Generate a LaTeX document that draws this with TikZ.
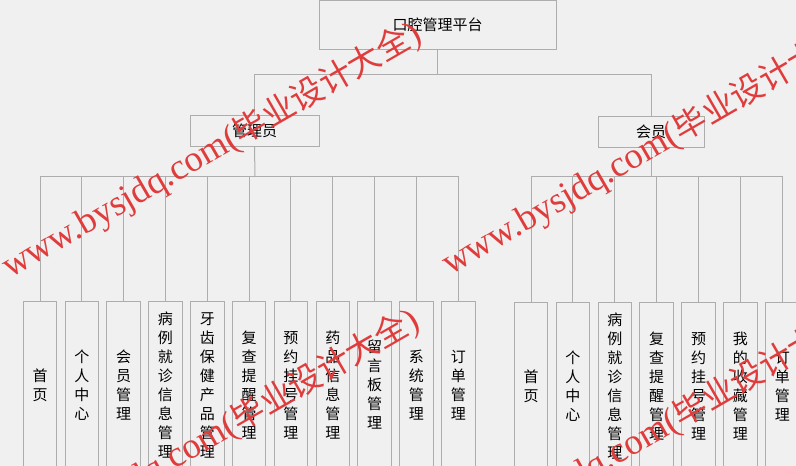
\documentclass[tikz,border=0pt]{standalone}
\usepackage{fontspec}
\newfontfamily\cjk{Noto Sans CJK SC}
\newfontfamily\wmlat{Liberation Serif}
\definecolor{bgc}{HTML}{F0F0F0}
\definecolor{linec}{HTML}{ADADAD}
\definecolor{wmred}{HTML}{E03C3C}
\newcommand\wmtext{\wmlat\fontsize{36.5}{36}\selectfont www.bysjdq.com(\cjk\fontsize{33}{33}\selectfont 毕业设计大全\wmlat\fontsize{36}{36}\selectfont)}
\begin{document}
\begin{tikzpicture}[x=1pt,y=-1pt,
  box/.style={draw=linec, line width=1pt, fill=bgc, inner sep=0pt, font=\cjk\fontsize{15}{19}\selectfont},
  leaf/.style={box, minimum width=33.4pt, minimum height=168pt, align=center},
  conn/.style={draw=linec, line width=1pt},
  wm/.style={text=wmred, rotate=30, anchor=base west, inner sep=0pt}]
\path[use as bounding box, fill=bgc] (0,0) rectangle (796,466);
\clip (0,0) rectangle (796,466);
% nodes
\node[box, minimum width=237pt, minimum height=48.5pt] (root) at (437.5,24.75) {口腔管理平台};
\node[box, minimum width=129pt, minimum height=31pt] (adm) at (254.5,130.5) {管理员};
\node[box, minimum width=106pt, minimum height=31pt] (mem) at (651,131.5) {会员};
\foreach \t [count=\i] in {{首\\页},{个\\人\\中\\心},{会\\员\\管\\理},{病\\例\\就\\诊\\信\\息\\管\\理},{牙\\齿\\保\\健\\产\\品\\管\\理},{复\\查\\提\\醒\\管\\理},{预\\约\\挂\\号\\管\\理},{药\\品\\信\\息\\管\\理},{留\\言\\板\\管\\理},{系\\统\\管\\理},{订\\单\\管\\理}}
  \node[leaf] (a\i) at ({40+41.83*(\i-1)},385) {\t};
\foreach \t [count=\i] in {{首\\页},{个\\人\\中\\心},{病\\例\\就\\诊\\信\\息\\管\\理},{复\\查\\提\\醒\\管\\理},{预\\约\\挂\\号\\管\\理},{我\\的\\收\\藏\\管\\理},{订\\单\\管\\理}}
  \node[leaf] (b\i) at ({531+41.88*(\i-1)},386) {\t};
% connectors
\coordinate (busT) at (437.5,74);
\coordinate (busL) at (255,176);
\coordinate (busR) at (651,176);
\draw[conn] (root.south) -- (root.south |- busT);
\draw[conn] (adm.north) |- (mem.north |- busT) -- (mem.north);
\draw[conn] (adm.south) -- (busL);
\draw[conn] (mem.south) -- (busR);
\draw[conn] (a1.north |- busL) -- (a11.north |- busL);
\draw[conn] (b1.north |- busR) -- (b7.north |- busR);
\foreach \i in {1,...,11} \draw[conn] (a\i.north) -- (a\i.north |- busL);
\foreach \i in {1,...,7} \draw[conn] (b\i.north) -- (b\i.north |- busR);
% watermarks
\node[wm] (wm1) at (10,279) {\wmtext};
\node[wm] (wm2) at (450,276) {\wmtext};
\node[wm] (wm3) at (8,566) {\wmtext};
\node[wm] (wm4) at (450,562) {\wmtext};
\end{tikzpicture}
\end{document}
